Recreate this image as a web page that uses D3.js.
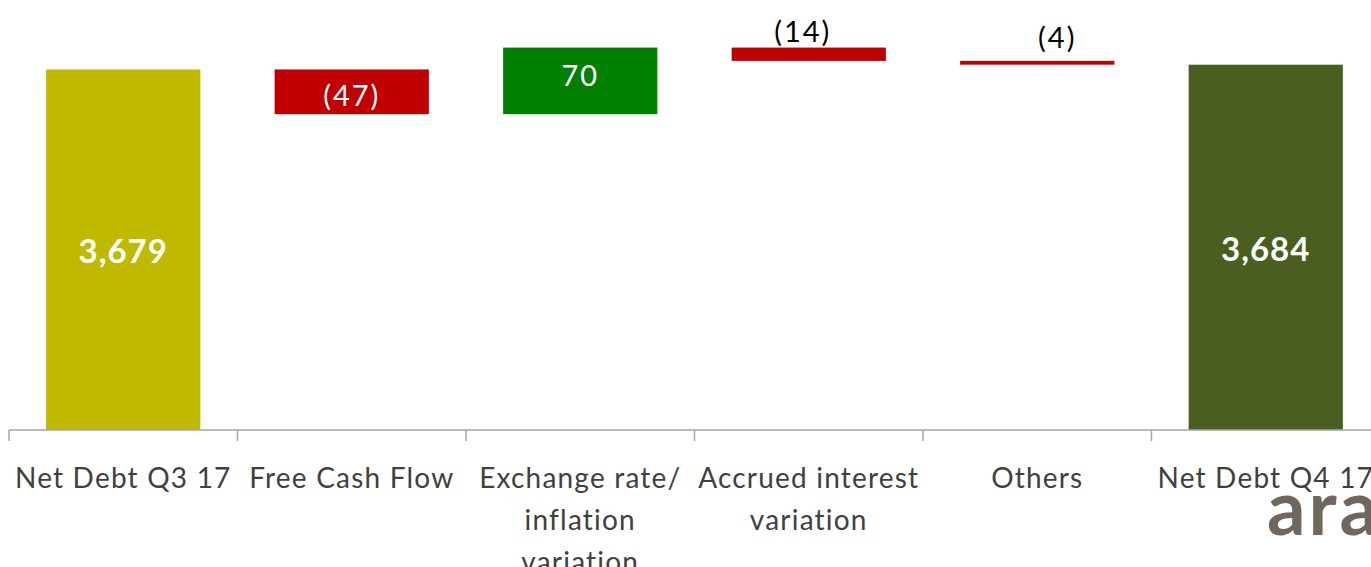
<!DOCTYPE html>
<html>
<head>
<meta charset="utf-8">
<script src="https://cdn.jsdelivr.net/npm/d3@7"></script>
<style>
  html, body { margin: 0; padding: 0; background: #fff; overflow: hidden; }
  #chart { width: 1371px; height: 567px; }
  text { font-family: Lato, "Open Sans", sans-serif; }
</style>
</head>
<body>
<div id="chart"></div>
<script>
// waterfall data
var categories = ["Net Debt Q3 17", "Free Cash Flow", "Exchange rate/\ninflation\nvariation",
                  "Accrued interest\nvariation", "Others", "Net Debt Q4 17"];
var values     = [3679, -47, 70, -14, -4, 3684];
var kinds      = ["total", "delta", "delta", "delta", "delta", "total"];
var valueLabels = ["3,679", "(47)", "70", "(14)", "(4)", "3,684"];
var yDomain    = [3300, 3752];

var W = 1371, H = 567;
var svg = d3.select("#chart").append("svg").attr("width", W).attr("height", H);

var x = d3.scaleBand().domain(categories).range([9, 9 + 228.5 * 6]).paddingInner(0.325).paddingOuter(0.1625);
var y = d3.scaleLinear().domain(yDomain).range([430, 0]);

// running sums -> bar extents
var run = 0;
var bars = categories.map(function (c, i) {
  var v = values[i], lo, hi, col;
  if (kinds[i] === "total") {
    lo = yDomain[0]; hi = v; run = v;
    col = i === 0 ? "#BFB900" : "#4A5E1F";
  } else {
    var next = run + v;
    lo = Math.min(run, next); hi = Math.max(run, next);
    run = next;
    col = v < 0 ? "#C00000" : "#008000";
  }
  return { cat: c, lo: lo, hi: hi, col: col, label: valueLabels[i], kind: kinds[i], v: v };
});

svg.selectAll("rect.bar").data(bars).enter().append("rect")
  .attr("class", "bar")
  .attr("x", function (d) { return x(d.cat); })
  .attr("width", x.bandwidth())
  .attr("y", function (d) { return y(d.hi); })
  .attr("height", function (d) { return Math.max(y(d.lo) - y(d.hi), 1); })
  .attr("fill", function (d) { return d.col; });

// axis with ticks between categories
var axisY = 430;
var g = svg.append("g").attr("stroke", "#A6A6A6").attr("stroke-width", 1.5);
g.append("line").attr("x1", 9).attr("x2", W).attr("y1", axisY).attr("y2", axisY);
var edges = categories.map(function (c) { return x(c) - x.step() * x.paddingInner() / 2; });
g.selectAll("line.tick").data(edges).enter().append("line")
  .attr("class", "tick")
  .attr("x1", function (d) { return d; }).attr("x2", function (d) { return d; })
  .attr("y1", axisY).attr("y2", axisY + 11);

// category labels
svg.selectAll("text.cat").data(categories).enter().append("text")
  .attr("class", "cat")
  .attr("text-anchor", "middle")
  .attr("font-size", 28)
  .attr("letter-spacing", 1.2)
  .attr("fill", "#404040")
  .each(function (c) {
    var t = d3.select(this), cx = x(c) + x.bandwidth() / 2;
    c.split("\n").forEach(function (ln, k) {
      t.append("tspan").attr("x", cx).attr("y", 488 + k * 42).text(ln);
    });
  });

// value labels (small bars get theirs above the bar)
var outsideGap = { 3: 6, 4: 13 };
svg.selectAll("text.val").data(bars).enter().append("text")
  .attr("class", "val")
  .attr("text-anchor", "middle")
  .attr("x", function (d, i) { return x(d.cat) + x.bandwidth() / 2 + (i === 4 ? 20 : (i === 3 ? -6 : 0)); })
  .attr("y", function (d, i) {
    var h = y(d.lo) - y(d.hi);
    if (h < 20) return y(d.hi) - outsideGap[i];
    if (d.kind === "total") return (y(d.lo) + y(d.hi)) / 2 + 2;
    return (y(d.lo) + y(d.hi)) / 2 + (d.v < 0 ? 4 : -5);
  })
  .attr("dy", function (d) { return (y(d.lo) - y(d.hi)) < 20 ? 0 : "0.35em"; })
  .attr("font-size", function (d) { return d.kind === "total" ? 33 : 29; })
  .attr("letter-spacing", function (d) { return d.kind === "total" ? 1 : 2; })
  .attr("font-weight", function (d) { return d.kind === "total" ? "bold" : "normal"; })
  .attr("fill", function (d) { return (y(d.lo) - y(d.hi)) < 20 ? "#000" : "#fff"; })
  .text(function (d) { return d.label; });

// logo fragment at bottom right
svg.append("text")
  .attr("x", 1267).attr("y", 535)
  .attr("font-size", 76).attr("font-weight", "bold")
  .attr("letter-spacing", 3)
  .attr("font-family", "Lato, sans-serif")
  .attr("fill", "#6F665E")
  .text("arauco");
</script>
</body>
</html>
